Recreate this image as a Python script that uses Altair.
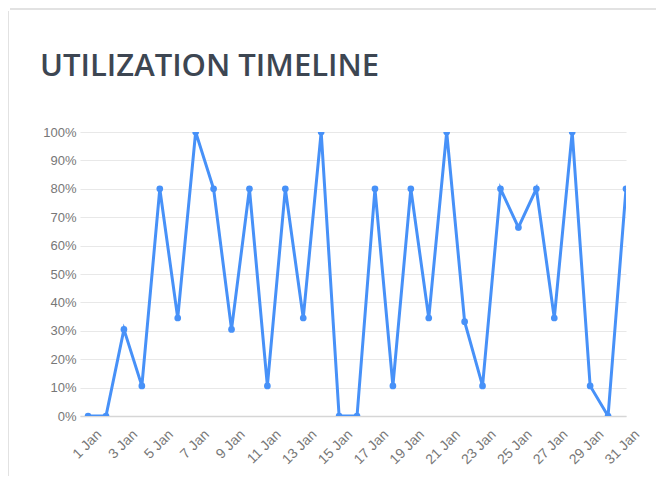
import altair as alt
import pandas as pd

days = list(range(1, 32))
utilization = [0.00, 0.00, 0.305, 0.106, 0.80, 0.345, 1.00, 0.80, 0.305, 0.80,
               0.106, 0.80, 0.345, 1.00, 0.00, 0.00, 0.80, 0.106, 0.80, 0.345,
               1.00, 0.332, 0.106, 0.80, 0.664, 0.80, 0.345, 1.00, 0.106, 0.00,
               0.80]
tick_days = list(range(1, 32, 2))
y_ticks = [i / 10 for i in range(11)]

df = pd.DataFrame({"day": days, "util": utilization})

W, H = 546, 284
PAD_L, PAD_T, PAD_R, PAD_B = 72, 124, 30, 60

x_enc = alt.X(
    "day:Q",
    scale=alt.Scale(domain=[0.55, 31], nice=False, zero=False),
    axis=alt.Axis(
        values=tick_days,
        labelExpr="datum.value + ' Jan'",
        labelAngle=-45,
        labelAlign="right",
        labelBaseline="top",
        labelOverlap=False,
        labelBound=False,
        labelOffset=6,
        grid=False,
        ticks=False,
        domain=True,
        domainColor="#d6d6d6",
        domainWidth=1.5,
        labelColor="#777777",
        labelFont="Liberation Sans",
        labelFontSize=14,
        labelPadding=11,
        title=None,
    ),
)
y_enc = alt.Y(
    "util:Q",
    scale=alt.Scale(domain=[0, 1], nice=False),
    axis=alt.Axis(
        values=y_ticks,
        format=".0%",
        grid=True,
        gridColor="#e8e8e8",
        gridWidth=1.2,
        ticks=False,
        domain=False,
        labelColor="#777777",
        labelFont="Liberation Sans",
        labelFontSize=13,
        labelPadding=4,
        title=None,
    ),
)

card = pd.DataFrame({"k": [0]})
frame_top = alt.Chart(card).mark_rule(
    stroke="#e2e2e2", strokeWidth=2
).encode(
    x=alt.value(-PAD_L + 2),
    x2=alt.value(W + PAD_R + 40),
    y=alt.value(-PAD_T + 1),
)
frame_left = alt.Chart(card).mark_rule(
    stroke="#e2e2e2", strokeWidth=2
).encode(
    x=alt.value(-PAD_L + 0),
    y=alt.value(-PAD_T + 3),
    y2=alt.value(H + PAD_B + 40),
)

line = alt.Chart(df).mark_line(
    color="#4791f8", strokeWidth=3, clip=True
).encode(x=x_enc, y=y_enc)

points = alt.Chart(df).mark_point(
    filled=True, color="#4791f8", size=45, opacity=1, clip=True
).encode(x=x_enc, y=y_enc)

chart = alt.layer(frame_top, frame_left, line, points).properties(
    width=W,
    height=H,
    padding={"left": PAD_L, "top": PAD_T, "right": PAD_R, "bottom": PAD_B},
    autosize=alt.AutoSizeParams(type="none"),
    title=alt.TitleParams(
        "UTILIZATION TIMELINE",
        anchor="start",
        frame="group",
        dx=-40,
        offset=-99,
        baseline="alphabetic",
        font="Open Sans",
        fontSize=31,
        fontWeight=600,
        color="#3d4652",
    ),
).configure_view(stroke=None)

chart.save("out.html", embed_options={"renderer": "svg", "actions": False})
